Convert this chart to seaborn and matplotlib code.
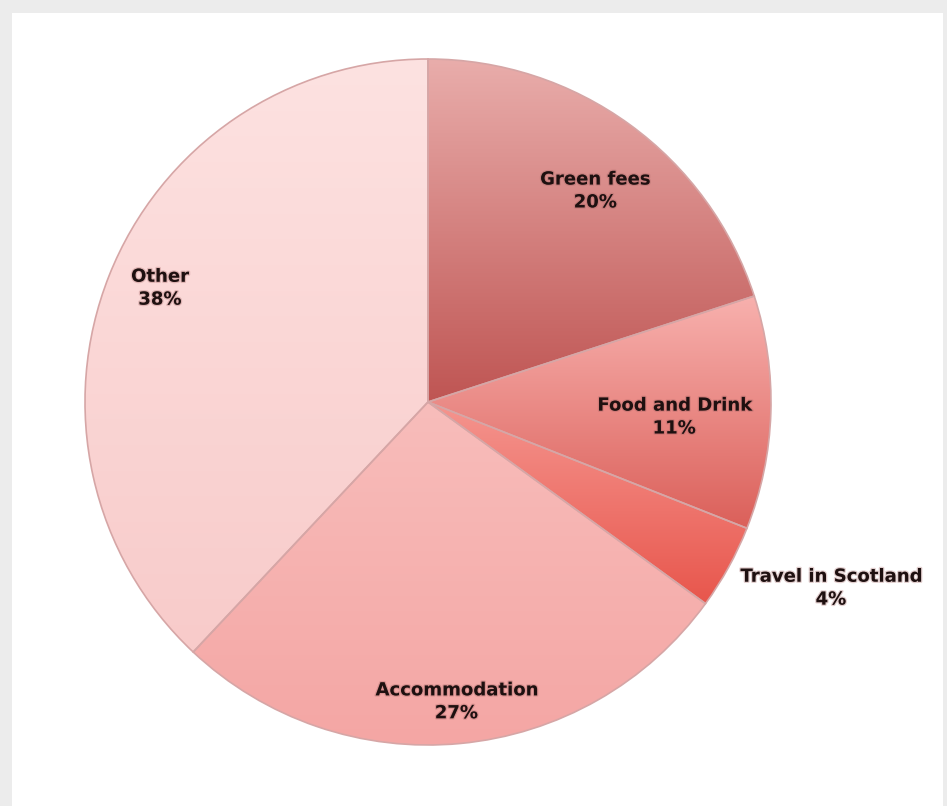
import numpy as np
import matplotlib
matplotlib.use("Agg")
import matplotlib.pyplot as plt
import matplotlib.patheffects as pe
from matplotlib.colors import LinearSegmentedColormap
import seaborn as sns

# ---- data ----
categories = ["Green fees", "Food and Drink", "Travel in Scotland", "Accommodation", "Other"]
shares = [20, 11, 4, 27, 38]
pct_labels = ["20%", "11%", "4%", "27%", "38%"]

# ---- style ----
top_colors = ["#e9adab", "#f8b1ae", "#f5958f", "#f8bdbb", "#fde2e1"]
bottom_colors = ["#bf5553", "#db605a", "#e8564c", "#f4a6a4", "#f8cbca"]
label_dist = [0.785, 0.719, 1.294, 0.878, 0.849]
label_ang_off = [-2.4, -1.7, 4.0, 0.0, -1.4]

sns.set_theme(style="white")
plt.rcParams['font.family'] = ['DejaVu Sans']

W, H = 947, 806
fig = plt.figure(figsize=(W / 100, H / 100), dpi=100)
fig.patch.set_facecolor("#ececec")

bg = fig.add_axes([12 / W, 0, (943 - 12) / W, (H - 13) / H], zorder=0)
bg.set_facecolor("white")
bg.set_xticks([]); bg.set_yticks([])
for s in bg.spines.values():
    s.set_visible(False)

ax = fig.add_axes([0, 0, 1, 1], zorder=1)
ax.patch.set_alpha(0)

cx, cy, R = 428, 402, 343
base = sns.color_palette(bottom_colors)
wedges, _ = ax.pie(shares, startangle=90, counterclock=False, colors=base,
                   radius=1.0,
                   wedgeprops=dict(edgecolor="#d6a6a6", linewidth=1.2))

# vertical gradient fill clipped to each wedge
for w, tc, bc in zip(wedges, top_colors, bottom_colors):
    ext = w.get_path().get_extents()
    x0, y0, x1, y1 = ext.x0, ext.y0, ext.x1, ext.y1
    cmap = LinearSegmentedColormap.from_list("g", [bc, tc])
    grad = np.linspace(0, 1, 256).reshape(-1, 1)
    im = ax.imshow(grad, cmap=cmap, origin="lower", aspect="auto",
                   extent=(x0, x1, y0, y1), zorder=w.get_zorder() + 0.1,
                   interpolation="bicubic")
    im.set_clip_path(w)
    w.set_zorder(w.get_zorder() + 0.2)
    w.set_facecolor("none")

ax.set_aspect("auto")
ax.set_xlim(-cx / R, (W - cx) / R)
ax.set_ylim(-(H - cy) / R, cy / R)
ax.axis("off")

# labels
for w, cat, pct, d, off in zip(wedges, categories, pct_labels, label_dist, label_ang_off):
    ang = np.deg2rad((w.theta1 + w.theta2) / 2 + off)
    x, y = d * np.cos(ang), d * np.sin(ang)
    ax.text(x, y, f"{cat}\n{pct}", ha="center", va="center",
            fontsize=13, fontweight="bold", color="#1e1010",
            linespacing=1.35, zorder=10,
            path_effects=[pe.withStroke(linewidth=1.8, foreground="#a06060", alpha=0.3)])

fig.savefig("out.png", dpi=100, facecolor=fig.get_facecolor())
